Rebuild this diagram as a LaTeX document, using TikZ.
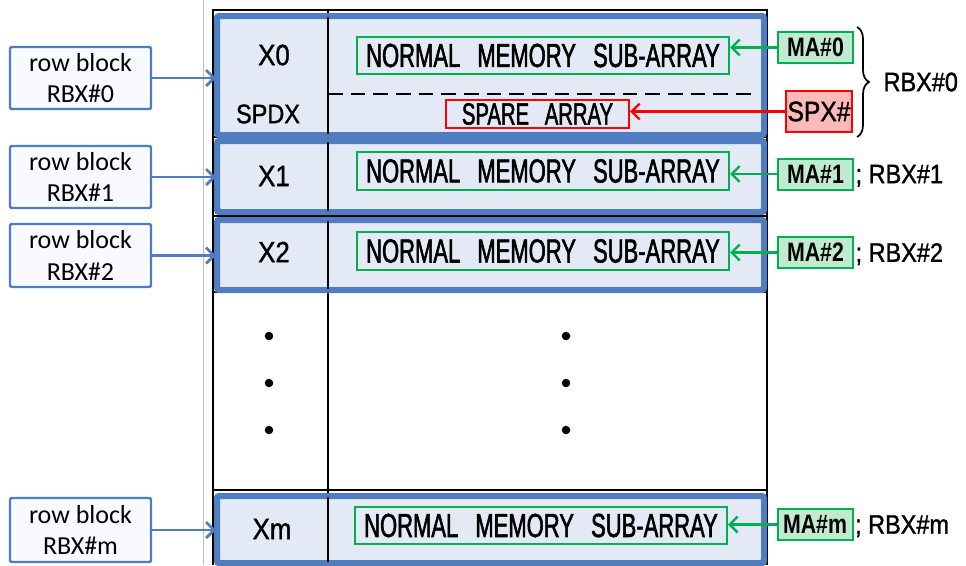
\documentclass[tikz,border=0pt]{standalone}
\usepackage{fontspec}
\setmainfont{Carlito}
\newfontfamily\gothic[FakeStretch=0.88,FakeBold=1.2]{Liberation Sans}
\newfontfamily\tagfont[FakeStretch=0.8]{Liberation Sans}
\newfontfamily\arrayfont[FakeStretch=0.66,FakeBold=1.6,WordSpace=2.8]{Liberation Sans}
\usetikzlibrary{arrows.meta,decorations.pathreplacing}
\definecolor{blueedge}{HTML}{4F7DBF}
\definecolor{blockfill}{HTML}{E3E9F5}
\definecolor{labelfill}{HTML}{F8FAFE}
\definecolor{greenedge}{HTML}{00B050}
\definecolor{greenfill}{HTML}{C0EBCF}
\definecolor{rededge}{HTML}{FF0000}
\definecolor{redfill}{HTML}{FFB9B9}
\begin{document}
\begin{tikzpicture}[x=0.75pt,y=-0.75pt,
  rowlabel/.style={draw=blueedge, fill=labelfill, line width=1.8pt, rounded corners=1pt,
    minimum width=105.75pt, minimum height=46.5pt, inner sep=0pt, align=center,
    font=\fontsize{19.5}{23.5}\selectfont},
  rowblock/.style={draw=blueedge, fill=blockfill, line width=3pt, rounded corners=2pt,
    minimum width=408.75pt, inner sep=0pt},
  subarray/.style={draw=greenedge, line width=1.5pt, minimum width=279pt,
    minimum height=28pt, inner sep=0pt, font=\arrayfont\fontsize{25}{25}\selectfont},
  sparebox/.style={draw=rededge, line width=1.5pt, minimum width=137.25pt,
    minimum height=21pt, inner sep=0pt, font=\arrayfont\fontsize{23}{23}\selectfont},
  matag/.style={draw=greenedge, fill=greenfill, line width=1.5pt, minimum width=56.25pt,
    minimum height=23.25pt, inner sep=0pt, font=\tagfont\bfseries\fontsize{20}{20}\selectfont},
  sptag/.style={draw=rededge, fill=redfill, line width=1.5pt, minimum width=49.5pt,
    minimum height=30.75pt, inner sep=0pt, font=\gothic\fontsize{21}{21}\selectfont},
  cell/.style={inner sep=0pt, font=\gothic\fontsize{22}{22}\selectfont},
  side/.style={inner sep=1pt, font=\gothic\fontsize{20}{20}\selectfont},
  grid/.style={line width=1.9pt, black},
  bluearrow/.style={draw=blueedge, line width=2pt, -{Straight Barb[length=6pt,width=12pt]}},
  greenarrow/.style={draw=greenedge, line width=1.8pt, -{Straight Barb[length=6pt,width=12pt]}},
  redarrow/.style={draw=rededge, line width=1.8pt, -{Straight Barb[length=6pt,width=12pt]}}]
\useasboundingbox (0,0) rectangle (966,565);

% thin guide line left of the array
\draw[gray!50, line width=0.75pt] (203,0) -- (203,565);

% highlighted row blocks
\node[rowblock, minimum height=87.75pt] (blk0) at (490.5,75.5) {};
\node[rowblock, minimum height=51.75pt] (blk1) at (490.5,176.5) {};
\node[rowblock, minimum height=51pt] (blk2) at (490.5,255) {};
\node[rowblock, minimum height=48.75pt] (blkm) at (490.5,529.5) {};

% array grid
\draw[grid] (213,565) -- (213,10) -- (767,10) -- (767,565);
\draw[grid] (328,10) -- (328,565);
\draw[grid] (213,137) -- (767,137);
\draw[grid] (213,216) -- (767,216);
\draw[grid] (213,292) -- (767,292);
\draw[grid] (213,490) -- (767,490);
\draw[line width=1.9pt, dash pattern=on 11pt off 6pt] (328,94) -- (755,94);

% redraw block outlines over the grid
\foreach \b in {blk0,blk1,blk2,blkm}
  \draw[blueedge, line width=3pt, rounded corners=2pt] (\b.north west) rectangle (\b.south east);

% row address labels
\node[cell] (x0) at (274,55) {X0};
\node[cell, font=\gothic\fontsize{20}{20}\selectfont] (spdx) at (268,114) {SPDX};
\node[cell] (x1) at (274,176) {X1};
\node[cell] (x2) at (274,252) {X2};
\node[cell] (xm) at (272,529) {Xm};

% sub-arrays
\node[subarray] (nm0) at (543,55.5) {NORMAL MEMORY SUB-ARRAY};
\node[sparebox] (sp) at (537.5,114) {SPARE ARRAY};
\node[subarray] (nm1) at (543,171) {NORMAL MEMORY SUB-ARRAY};
\node[subarray] (nm2) at (543,251) {NORMAL MEMORY SUB-ARRAY};
\node[subarray] (nmm) at (541,525.5) {NORMAL MEMORY SUB-ARRAY};

% continuation dots
\foreach \y in {336,383,430} {
  \fill (269,\y) circle[radius=3.2pt];
  \fill (566,\y) circle[radius=3.2pt];
}

% tags on the right
\node[matag] (ma0) at (815.5,47.5) {MA\#0};
\node[sptag] (spx) at (819,111.5) {SPX\#};
\node[matag] (ma1) at (815.5,174) {MA\#1};
\node[matag] (ma2) at (815.5,252.5) {MA\#2};
\node[matag] (mam) at (815,524.5) {MA\#m};

\draw[greenarrow] (ma0.west) -- (ma0.west -| nm0.east);
\draw[redarrow] (spx.west) -- (spx.west -| sp.east);
\draw[greenarrow] (ma1.west) -- (ma1.west -| nm1.east);
\draw[greenarrow] (ma2.west) -- (ma2.west -| nm2.east);
\draw[greenarrow] (mam.west) -- (mam.west -| nmm.east);

% row block names
\coordinate (bt) at (857,27);
\coordinate (bb) at (857,137);
\draw[line width=1.3pt, decorate, decoration={brace, amplitude=9pt}] (bt) -- (bb);
\node[side, anchor=west] (rbx0) at (882,82) {RBX\#0};
\node[side, anchor=base west] (rbx1) at (ma1.base east) {; RBX\#1};
\node[side, anchor=base west] (rbx2) at (ma2.base east) {; RBX\#2};
\node[side, anchor=base west] (rbxm) at (mam.base east) {; RBX\#m};

% row block callouts on the left
\node[rowlabel] (rb0) at (80.5,78) {row block\\RBX\#0};
\node[rowlabel] (rb1) at (80.5,177) {row block\\RBX\#1};
\node[rowlabel, minimum height=47.25pt] (rb2) at (80.5,255.5) {row block\\RBX\#2};
\node[rowlabel, minimum height=48pt] (rbm) at (80.5,530) {row block\\RBX\#m};

\draw[bluearrow] (rb0.east) -- (rb0.east -| blk0.west);
\draw[bluearrow] (rb1.east) -- (rb1.east -| blk1.west);
\draw[bluearrow] (rb2.east) -- (rb2.east -| blk2.west);
\draw[bluearrow] (rbm.east) -- (rbm.east -| blkm.west);
\end{tikzpicture}
\end{document}
